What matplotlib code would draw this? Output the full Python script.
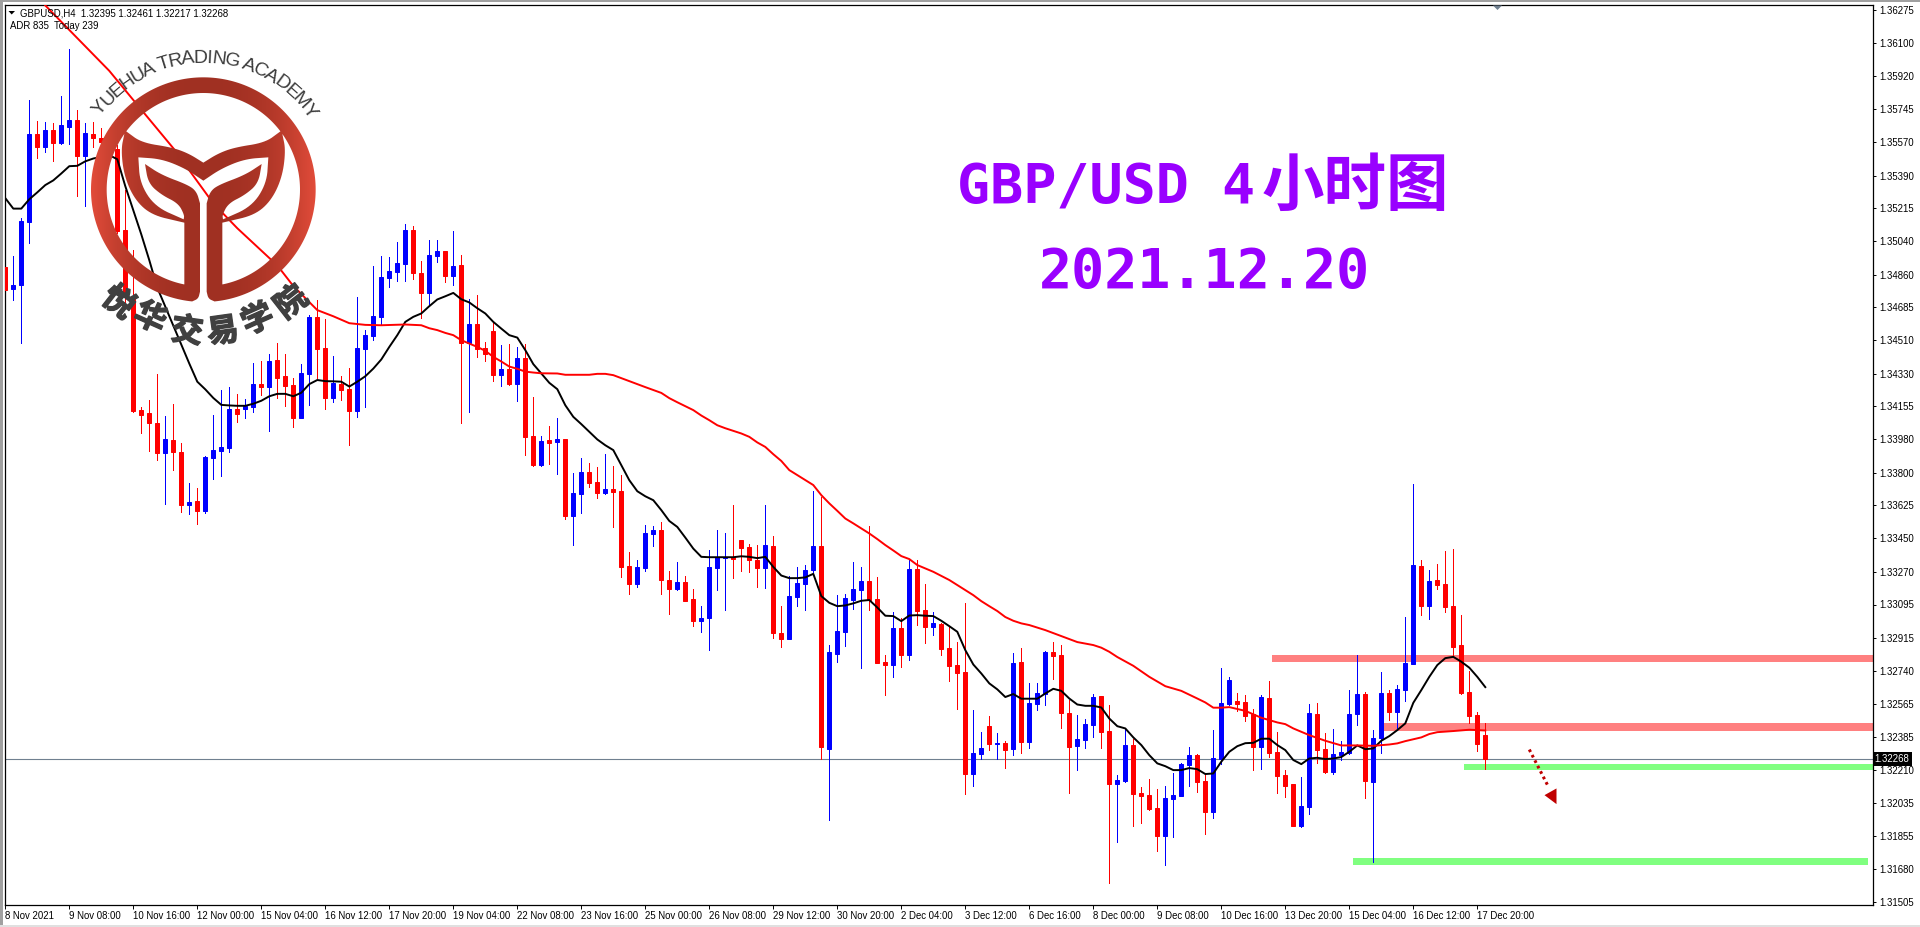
import numpy as np
import matplotlib
matplotlib.use('Agg')
import matplotlib.pyplot as plt
import matplotlib.patheffects as pe
from matplotlib.font_manager import FontProperties
from matplotlib.patches import PathPatch, Rectangle
from matplotlib.path import Path

plt.rcParams['font.family'] = ['Liberation Sans', 'DejaVu Sans']

# GBPUSD H4 candles, prices in points (1e-5)
opens = [
    134900, 134784, 134803, 135142, 135610, 135543, 135632, 135565, 135650, 135689,
    135495, 135610, 135593, 135600, 135530, 135097, 134744, 134134, 134117, 134066,
    133907, 133974, 133911, 133629, 133647, 133594, 133878, 133915, 133931, 134139,
    134141, 134150, 134274, 134257, 134403, 134316, 134268, 134091, 134327, 134633,
    134467, 134198, 134274, 134246, 134130, 134464, 134530, 134634, 134842, 134875,
    134917, 135098, 134866, 134762, 134960, 134985, 134853, 134910, 134495, 134595,
    134466, 134557, 134324, 134354, 134274, 134413, 133995, 133840, 133974, 133963,
    133979, 133569, 133687, 133803, 133749, 133690, 133712, 133701, 133300, 133204,
    133289, 133471, 133493, 133225, 133177, 133214, 133123, 133006, 133022, 133289,
    133344, 133348, 133439, 133402, 133332, 133290, 133407, 132942, 132910, 133135,
    133204, 133279, 133407, 132321, 132830, 132947, 133119, 133172, 133220, 133124,
    132787, 132771, 132969, 132824, 133284, 133065, 132974, 132990, 132862, 132771,
    132733, 132188, 132295, 132444, 132348, 132353, 132321, 132787, 132359, 132562,
    132616, 132840, 132824, 132514, 132337, 132370, 132450, 132605, 132418, 132134,
    132150, 132343, 132086, 132075, 132006, 131856, 132054, 132070, 132236, 132289,
    132150, 131984, 132268, 132562, 132578, 132573, 132509, 132332, 132594, 132305,
    132182, 132134, 131909, 132011, 132509, 132321, 132198, 132289, 132300, 132509,
    132616, 132145, 132380, 132621, 132519, 132637, 132776, 133300, 133086, 133226,
    133204, 133086, 132878, 132626, 132503, 132395,
]
highs = [
    134946, 134961, 135164, 135794, 135683, 135678, 135670, 135818, 136066, 135742,
    135670, 135676, 135643, 135637, 135554, 135315, 134989, 134150, 134191, 134327,
    134102, 134167, 133959, 133745, 133717, 133887, 134108, 134243, 134257, 134219,
    134196, 134386, 134397, 134434, 134495, 134434, 134305, 134381, 134642, 134725,
    134622, 134427, 134320, 134360, 134740, 134563, 134906, 134958, 134953, 135032,
    135130, 135122, 134932, 135044, 135044, 134985, 135092, 134967, 134728, 134750,
    134498, 134605, 134482, 134488, 134472, 134491, 134204, 133995, 134049, 134092,
    133979, 133797, 133878, 133851, 133830, 133899, 133835, 133787, 133375, 133332,
    133519, 133514, 133535, 133273, 133321, 133246, 133177, 133086, 133386, 133493,
    133476, 133626, 133439, 133418, 133412, 133627, 133461, 133086, 133247, 133295,
    133306, 133702, 133670, 132878, 133145, 133151, 133322, 133295, 133514, 133242,
    132824, 133054, 133022, 133333, 133333, 133204, 133054, 132995, 132974, 132894,
    133102, 132530, 132412, 132498, 132407, 132364, 132835, 132862, 132674, 132674,
    132846, 132894, 132878, 132584, 132503, 132482, 132616, 132605, 132557, 132182,
    132434, 132375, 132118, 132161, 132107, 132123, 132193, 132246, 132332, 132295,
    132182, 132423, 132755, 132707, 132621, 132610, 132535, 132610, 132685, 132412,
    132209, 132134, 132172, 132562, 132567, 132407, 132428, 132364, 132637, 132824,
    132626, 132423, 132733, 132637, 132664, 133028, 133739, 133333, 133279, 133311,
    133381, 133391, 133038, 132739, 132519, 132461,
]
lows = [
    134707, 134722, 134495, 135029, 135484, 135517, 135469, 135558, 135560, 135282,
    135228, 135543, 135517, 135508, 135084, 134707, 134125, 134012, 133915, 133869,
    133635, 133813, 133588, 133577, 133524, 133583, 133767, 133782, 133911, 134069,
    134091, 134126, 134215, 134025, 134200, 134158, 134044, 134091, 134163, 134307,
    134139, 134178, 134191, 133951, 134099, 134154, 134511, 134589, 134794, 134826,
    134826, 134837, 134630, 134691, 134928, 134821, 134803, 134067, 134126, 134420,
    134397, 134290, 134263, 134272, 134183, 133894, 133835, 133835, 133846, 133792,
    133551, 133412, 133583, 133723, 133664, 133685, 133509, 133241, 133150, 133188,
    133273, 133407, 133150, 133043, 133172, 133113, 132979, 132947, 132851, 133172,
    133065, 133236, 133273, 133268, 133188, 133183, 132915, 132867, 132910, 133086,
    133065, 133268, 132268, 131942, 132787, 132872, 133070, 132755, 133065, 132781,
    132610, 132707, 132760, 132798, 132985, 132888, 132931, 132824, 132685, 132535,
    132081, 132123, 132268, 132316, 132268, 132220, 132289, 132300, 132327, 132530,
    132557, 132696, 132434, 132086, 132209, 132327, 132386, 132327, 131604, 131824,
    132145, 131909, 131925, 131995, 131776, 131701, 131851, 132070, 132123, 132091,
    131867, 131952, 132241, 132557, 132525, 132471, 132209, 132214, 132279, 132086,
    132065, 131909, 131904, 131974, 132246, 132193, 132188, 132263, 132295, 132450,
    132059, 131717, 132300, 132477, 132423, 132578, 132776, 133038, 133017, 133177,
    133054, 132819, 132616, 132461, 132311, 132217,
]
closes = [
    134780, 134803, 135145, 135610, 135543, 135632, 135565, 135659, 135689, 135495,
    135617, 135591, 135569, 135532, 135094, 134744, 134132, 134108, 134066, 133907,
    133979, 133911, 133629, 133642, 133594, 133883, 133920, 133937, 134141, 134114,
    134158, 134274, 134257, 134397, 134305, 134263, 134091, 134333, 134633, 134464,
    134200, 134279, 134244, 134130, 134467, 134535, 134637, 134846, 134878, 134921,
    135098, 134869, 134762, 134964, 134985, 134853, 134905, 134495, 134595, 134463,
    134436, 134324, 134354, 134274, 134413, 133992, 133840, 133969, 133960, 133979,
    133569, 133690, 133803, 133744, 133690, 133712, 133696, 133296, 133204, 133295,
    133476, 133493, 133225, 133177, 133214, 133113, 133006, 133022, 133295, 133348,
    133348, 133337, 133396, 133332, 133289, 133413, 132942, 132910, 133140, 133209,
    133279, 133407, 132332, 132840, 132953, 133129, 133177, 133220, 133119, 132781,
    132771, 132969, 132824, 133284, 133060, 132974, 132995, 132856, 132765, 132728,
    132188, 132300, 132327, 132348, 132353, 132316, 132781, 132359, 132567, 132621,
    132840, 132819, 132514, 132332, 132375, 132455, 132600, 132412, 132134, 132156,
    132343, 132081, 132070, 132000, 131856, 132059, 132075, 132241, 132289, 132145,
    131984, 132273, 132567, 132691, 132562, 132498, 132332, 132600, 132300, 132177,
    132123, 131909, 132016, 132514, 132316, 132198, 132295, 132305, 132509, 132616,
    132150, 132380, 132621, 132519, 132642, 132781, 133306, 133086, 133220, 133199,
    133081, 132867, 132621, 132498, 132348, 132268,
]

# fast moving average (black), one value per candle
ma_fast = [
    135269, 135213, 135213, 135263, 135300, 135339, 135364, 135401, 135440, 135442,
    135466, 135481, 135490, 135499, 135477, 135333, 135204, 135075, 134937, 134790,
    134688, 134587, 134486, 134384, 134287, 134246, 134200, 134163, 134160, 134158,
    134158, 134169, 134185, 134209, 134222, 134222, 134209, 134228, 134274, 134296,
    134290, 134289, 134287, 134261, 134287, 134316, 134357, 134406, 134473, 134536,
    134607, 134634, 134652, 134691, 134727, 134744, 134762, 134728, 134711, 134680,
    134652, 134607, 134571, 134536, 134523, 134456, 134381, 134331, 134281, 134247,
    134161, 134099, 134060, 134019, 133978, 133947, 133921, 133840, 133760, 133701,
    133674, 133653, 133600, 133542, 133510, 133453, 133394, 133350, 133348, 133348,
    133348, 133348, 133353, 133350, 133343, 133350, 133296, 133250, 133236, 133236,
    133240, 133259, 133140, 133104, 133086, 133090, 133101, 133115, 133119, 133079,
    133035, 133033, 133006, 133036, 133038, 133035, 133033, 133008, 132979, 132949,
    132851, 132774, 132726, 132673, 132641, 132600, 132616, 132591, 132591, 132591,
    132619, 132644, 132633, 132592, 132560, 132553, 132553, 132544, 132485, 132444,
    132432, 132384, 132343, 132289, 132245, 132230, 132209, 132209, 132220, 132214,
    132188, 132191, 132254, 132307, 132337, 132353, 132355, 132377, 132377, 132343,
    132316, 132263, 132241, 132271, 132275, 132268, 132271, 132279, 132307, 132341,
    132321, 132325, 132366, 132391, 132423, 132459, 132569, 132637, 132708, 132771,
    132808, 132815, 132789, 132757, 132708, 132653,
]

# slow moving average (red), read at these candles
ma_slow_idx = [
    5, 13, 16, 21, 26, 29, 34, 36, 39, 41, 43, 45, 47, 50, 52, 53, 54, 55, 56, 57,
    58, 59, 60, 61, 62, 63, 64, 65, 66, 67, 69, 70, 73, 74, 75, 76, 77, 78, 79, 80,
    82, 83, 84, 85, 86, 87, 88, 89, 90, 91, 92, 93, 94, 95, 96, 97, 98, 101, 102, 103,
    104, 105, 106, 107, 108, 109, 110, 111, 112, 113, 114, 115, 116, 118, 119, 120,
    121, 122, 123, 124, 125, 126, 127, 128, 130, 132, 134, 136, 137, 138, 139, 141,
    143, 145, 147, 149, 150, 151, 152, 153, 155, 157, 159, 160, 161, 163, 165, 167,
    169, 171, 173, 174, 175, 177, 178, 179, 181, 183, 185,
]
ma_slow = [
    136300, 135950, 135794, 135536, 135241, 135108, 134909, 134799, 134670, 134637,
    134600, 134591, 134589, 134593, 134589, 134573, 134563, 134548, 134536, 134509,
    134491, 134473, 134452, 134420, 134395, 134368, 134356, 134341, 134336, 134332,
    134331, 134324, 134324, 134329, 134329, 134322, 134306, 134290, 134274, 134258,
    134227, 134199, 134177, 134156, 134135, 134106, 134081, 134054, 134038, 134024,
    134010, 133992, 133962, 133938, 133899, 133863, 133814, 133734, 133680, 133636,
    133596, 133555, 133529, 133502, 133475, 133445, 133413, 133384, 133354, 133338,
    133306, 133288, 133270, 133226, 133199, 133172, 133145, 133113, 133086, 133060,
    133028, 133008, 132994, 132985, 132958, 132926, 132894, 132878, 132864, 132842,
    132814, 132767, 132708, 132658, 132633, 132592, 132571, 132543, 132543, 132546,
    132526, 132489, 132464, 132455, 132432, 132396, 132366, 132341, 132341, 132339,
    132346, 132352, 132364, 132384, 132402, 132412, 132418, 132425, 132421,
]

# zones drawn on the chart: first candle, last candle, price, half thickness
red_zone_start = [158.3, 172.1]
red_zone_price = [1.32806, 1.32439]
red_zone_half = [0.00019, 0.00021]
green_zone_start = [182.3, 168.4]
green_zone_end = [233.6, 232.8]
green_zone_price = [1.32227, 1.31720]
green_zone_half = [0.00016, 0.00019]

arrow_x = [190.5, 192.9]
arrow_y = [1.32319, 1.32119]
arrow_head_x = [193.9, 192.4, 193.9]
arrow_head_y = [1.32111, 1.32075, 1.32027]

last_price = 1.32268

y_ticks = [
    1.36275, 1.36100, 1.35920, 1.35745, 1.35570, 1.35390, 1.35215, 1.35040, 1.34860, 1.34685,
    1.34510, 1.34330, 1.34155, 1.33980, 1.33800, 1.33625, 1.33450, 1.33270, 1.33095, 1.32915,
    1.32740, 1.32565, 1.32385, 1.32210, 1.32035, 1.31855, 1.31680, 1.31505,
]
x_labels = [
    '8 Nov 2021', '9 Nov 08:00', '10 Nov 16:00', '12 Nov 00:00', '15 Nov 04:00', '16 Nov 12:00',
    '17 Nov 20:00', '19 Nov 04:00', '22 Nov 08:00', '23 Nov 16:00', '25 Nov 00:00', '26 Nov 08:00',
    '29 Nov 12:00', '30 Nov 20:00', '2 Dec 04:00', '3 Dec 12:00', '6 Dec 16:00', '8 Dec 00:00',
    '9 Dec 08:00', '10 Dec 16:00', '13 Dec 20:00', '15 Dec 04:00', '16 Dec 12:00', '17 Dec 20:00',
]

W, H = 1920, 927
LABEL_SIZE = 6.9
fig = plt.figure(figsize=(W / 100, H / 100), dpi=100, facecolor='white')

# chart frame
ax = fig.add_axes([4.5 / W, (H - 904.5) / H, (1872.5 - 4.5) / W, 900 / H])
ax.set_xlim(-0.1, 233.4)
ax.set_ylim(1.31490, 1.36305)

o = np.array(opens) / 1e5
h = np.array(highs) / 1e5
l = np.array(lows) / 1e5
c = np.array(closes) / 1e5
x = np.arange(len(o))
col = np.where(c >= o, '#0000ff', '#ff0000')

for i in range(len(red_zone_price)):
    ax.add_patch(Rectangle((red_zone_start[i], red_zone_price[i] - red_zone_half[i]),
                           240 - red_zone_start[i], 2 * red_zone_half[i],
                           fc='#ff8080', ec='none', zorder=1))
for i in range(len(green_zone_price)):
    ax.add_patch(Rectangle((green_zone_start[i], green_zone_price[i] - green_zone_half[i]),
                           green_zone_end[i] - green_zone_start[i], 2 * green_zone_half[i],
                           fc='#80ff80', ec='none', zorder=1, clip_on=False))

ax.axhline(last_price, color='#708090', lw=0.8, zorder=1.5)

# one pixel wicks, bodies five pixels wide
ax.vlines(x, l, h, colors=col, lw=0.5, zorder=2, antialiased=False)
ax.bar(x, np.abs(c - o), bottom=np.minimum(o, c), width=0.5, color=col, edgecolor=col,
       linewidth=0.72, zorder=3)

ax.plot(x, np.array(ma_fast) / 1e5, color='black', lw=1.4, zorder=4)
ax.plot(ma_slow_idx, np.array(ma_slow) / 1e5, color='#ff0000', lw=1.4, zorder=4)

# dotted down arrow
ax.plot(arrow_x, arrow_y, color='#c00000', lw=2.2, dashes=(0.9, 1.1), zorder=5)
ax.fill(arrow_head_x, arrow_head_y, color='#c00000', lw=0, zorder=5)

ax.yaxis.tick_right()
ax.set_yticks(y_ticks)
ax.set_yticklabels(['%.5f' % v for v in y_ticks], fontsize=LABEL_SIZE)
ax.tick_params(axis='y', length=2.4, width=0.7, pad=2.2, color='black', labelcolor='black')
ax.set_xticks(x[::8][:len(x_labels)])
ax.set_xticklabels(x_labels, fontsize=LABEL_SIZE, ha='left')
ax.tick_params(axis='x', length=3, width=0.7, pad=1.6)
for sp in ax.spines.values():
    sp.set_linewidth(0.9)
    sp.set_color('black')

ax.text(1.0012, last_price, '%.5f' % last_price, transform=ax.get_yaxis_transform(),
        fontsize=LABEL_SIZE, color='white', va='center', ha='left', zorder=20, clip_on=False,
        bbox=dict(fc='black', ec='none', pad=1.6))

# overlay in screen pixels for window edge, header, logo and title
lg = fig.add_axes([0, 0, 1, 1], zorder=10)
lg.patch.set_alpha(0)
lg.axis('off')

# window edge
lg.add_patch(Rectangle((0, 0), W, 1.7, fc='#a0a0a0', ec='none'))
lg.add_patch(Rectangle((0, 0), 2.5, H, fc='#a0a0a0', ec='none'))
lg.add_patch(Rectangle((0, 924.5), W, 2.5, fc='#e0e0e0', ec='none'))

# chart shift marker and header
lg.fill([1493, 1502, 1497.5], [5.5, 5.5, 10], color='#708090', lw=0)
lg.fill([8.5, 15, 11.7], [11, 11, 14.5], color='black', lw=0)
lg.text(20, 16.2, 'GBPUSD,H4  1.32395 1.32461 1.32217 1.32268', fontsize=LABEL_SIZE, va='baseline')
lg.text(9.5, 29.2, 'ADR 835  Today 239', fontsize=LABEL_SIZE, va='baseline')

# title
PURPLE = '#9900ff'
lg.text(957, 203.3, 'GBP/USD 4', fontsize=39.6, color=PURPLE, weight='bold',
        family='DejaVu Sans Mono', va='baseline')
lg.text(1262, 205, '小时图', fontsize=45, color=PURPLE, weight='bold',
        family='Noto Sans CJK SC', va='baseline')
lg.text(1039, 287.7, '2021.12.20', fontsize=39.6, color=PURPLE, weight='bold',
        family='DejaVu Sans Mono', va='baseline')


# logo shape, traced on a 3x crop with origin at (85, 60)
def chaikin(pts, n=3):
    pts = np.asarray(pts, float)
    for _ in range(n):
        q = 0.75 * pts[:-1] + 0.25 * pts[1:]
        r = 0.25 * pts[:-1] + 0.75 * pts[1:]
        mid = np.empty((2 * len(q), 2))
        mid[0::2] = q
        mid[1::2] = r
        pts = np.vstack([pts[0], mid, pts[-1]])
    return pts


def arc(cx, cy, rad, a0, a1, n=80):
    t = np.radians(np.linspace(a0, a1, n))
    return np.column_stack([cx + rad * np.cos(t), cy + rad * np.sin(t)])


def angle(cx, cy, p):
    return np.degrees(np.arctan2(p[1] - cy, p[0] - cx)) % 360


def mirror(pts, cx=355):
    out = np.array(pts, float)[::-1].copy()
    out[:, 0] = 2 * cx - out[:, 0]
    return out


def to_px(pts):
    pts = np.asarray(pts, float)
    return np.column_stack([85 + pts[:, 0] / 3, 60 + pts[:, 1] / 3])


def contour(pts, sign):
    pts = np.asarray(pts)
    area = 0.5 * np.sum(pts[:-1, 0] * pts[1:, 1] - pts[1:, 0] * pts[:-1, 1])
    return pts if area * sign > 0 else pts[::-1]


CX, CY, R_OUT, R_IN = 355, 389, 337, 290

# outer outline with the stem slot as a bay
left_bay = np.vstack([
    chaikin([(322, 724), (340, 716), (345, 695)]),
    chaikin([(345, 430), (335, 395), (310, 375), (230, 345), (180, 312)]),
    chaikin([(180, 312), (190, 370), (230, 405), (280, 430), (298, 465), (296, 478)]),
    chaikin([(296, 478), (210, 440), (165, 370), (160, 292)]),
    chaikin([(160, 292), (230, 297), (300, 325), (355, 362)]),
])
outer = np.vstack([left_bay, mirror(left_bay),
                   arc(CX, CY, R_OUT, angle(CX, CY, (388, 724)), angle(CX, CY, (322, 724)) - 360, 240)])

# white dome at the top
dome_right = chaikin([(585, 215), (540, 248), (450, 262), (400, 280), (355, 308)])
dome = np.vstack([arc(CX, CY, R_IN, angle(CX, CY, (125, 215)), angle(CX, CY, (585, 215)), 120),
                  dome_right, mirror(dome_right)])

# white side chambers
side_left = np.vstack([
    chaikin([(118, 222), (108, 270), (118, 350), (150, 420), (200, 465), (285, 485), (298, 488)]),
    [(298, 672)],
    arc(CX, CY, R_IN, angle(CX, CY, (298, 672)), angle(CX, CY, (118, 222)), 100),
])
side_right = mirror(side_left)

verts, codes = [], []
for pts, sign in [(outer, 1), (dome, -1), (side_left, -1), (side_right, -1)]:
    p = contour(to_px(np.vstack([pts, pts[0]])), sign)
    verts.append(p)
    codes.append([Path.MOVETO] + [Path.LINETO] * (len(p) - 2) + [Path.CLOSEPOLY])
logo_path = Path(np.vstack(verts), np.concatenate(codes))

grad_x = np.linspace(-1, 1, 256)
grad_t = np.abs(grad_x) ** 2.4
dark = np.array([0xa0, 0x30, 0x22]) / 255
light = np.array([0xe2, 0x4c, 0x3a]) / 255
grad = (dark[None, :] * (1 - grad_t[:, None]) + light[None, :] * grad_t[:, None])[None, :, :]
clip = PathPatch(logo_path, transform=lg.transData, fc='none', ec='none')
lg.add_patch(clip)
im = lg.imshow(grad, extent=(91, 316, 303, 77), aspect='auto', zorder=6, interpolation='bilinear')
im.set_clip_path(clip)
lg.set_xlim(0, W)
lg.set_ylim(H, 0)

# lettering round the logo
LOGO_X, LOGO_Y = 203.3, 189.7
arc_text = 'YUEHUA TRADING ACADEMY'
fp = FontProperties(family='Liberation Sans', size=14)
rend = fig.canvas.get_renderer()
widths = [5.2 if ch == ' ' else rend.get_text_width_height_descent(ch, fp, False)[0] + 1.0 for ch in arc_text]
edges = np.concatenate([[0], np.cumsum(widths)])
centers = 0.5 * (edges[:-1] + edges[1:]) / edges[-1]
for ch, u in zip(arc_text, centers):
    th = np.radians(-54 + 110 * u)
    lg.text(LOGO_X + 127 * np.sin(th), LOGO_Y - 127 * np.cos(th), ch, fontproperties=fp, color='#3c3c3c',
            rotation=-np.degrees(th), rotation_mode='anchor', ha='center', va='baseline', zorder=7)

cn_chars = ['悦', '华', '交', '易', '学', '院']
cn_pos = [(118, 303), (150, 318.5), (187, 332), (223, 332), (258, 320), (292, 303)]
cn_rot = [-38, -24, -8, 8, 24, 38]
for ch, pos, rot in zip(cn_chars, cn_pos, cn_rot):
    lg.text(pos[0], pos[1], ch, fontsize=23, weight='bold', family='Noto Sans CJK SC', color='#404040',
            rotation=rot, rotation_mode='anchor', ha='center', va='center', zorder=7,
            path_effects=[pe.withStroke(linewidth=1.0, foreground='#404040')])

fig.savefig('out.png', dpi=100, facecolor='white')
